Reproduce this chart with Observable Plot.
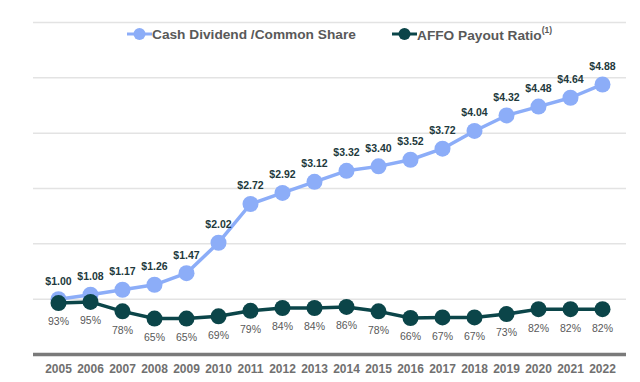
<!DOCTYPE html>
<html>
<head>
<meta charset="utf-8">
<script src="https://cdn.jsdelivr.net/npm/d3@7"></script>
<script src="https://cdn.jsdelivr.net/npm/@observablehq/plot@0.6"></script>
<style>
  html, body { margin: 0; padding: 0; background: #fff; }
  #wrap { position: relative; width: 640px; height: 382px; font-family: "Liberation Sans", Arial, sans-serif; }
  #legend { position: absolute; top: 26px; left: 0; width: 640px; height: 18px; }
  .item { position: absolute; top: 0; display: flex; align-items: center; white-space: nowrap; }
  .item span { display: inline-block; font-weight: bold; font-size: 13.7px; color: #595959; }
  .item sup { font-size: 8.5px; position: relative; top: -1px; }
</style>
</head>
<body>
<div id="wrap">
  <div id="chart"></div>
  <div id="legend">
    <div class="item" style="left:127px;">
      <svg width="25" height="16"><line x1="0" y1="8" x2="25" y2="8" stroke="#8CADF8" stroke-width="3"/><circle cx="12.5" cy="8" r="6" fill="#8CADF8"/></svg>
      <span>Cash Dividend /Common Share</span>
    </div>
    <div class="item" style="left:392px;">
      <svg width="25" height="16"><line x1="0" y1="8" x2="25" y2="8" stroke="#0B4549" stroke-width="3"/><circle cx="12.5" cy="8" r="6" fill="#0B4549"/></svg>
      <span>AFFO Payout Ratio<sup>(1)</sup></span>
    </div>
  </div>
</div>
<script>
const years = ["2005","2006","2007","2008","2009","2010","2011","2012","2013","2014","2015","2016","2017","2018","2019","2020","2021","2022"];
const dividend = [1.00,1.08,1.17,1.26,1.47,2.02,2.72,2.92,3.12,3.32,3.40,3.52,3.72,4.04,4.32,4.48,4.64,4.88];
const payout = [93,95,78,65,65,69,79,84,84,86,78,66,67,67,73,82,82,82];
const gridValues = [1,2,3,4,5,6];

const blue = "#8CADF8";
const dark = "#0B4549";

const divData = years.map((y, i) => ({year: y, v: dividend[i]}));
const payData = years.map((y, i) => ({year: y, v: payout[i] / 100, p: payout[i]}));

const chart = Plot.plot({
  width: 640,
  height: 382,
  marginTop: 22,
  marginBottom: 28,
  marginLeft: 33,
  marginRight: 14,
  style: {fontFamily: "Liberation Sans, Arial, sans-serif", background: "#fff"},
  x: {type: "point", domain: years, padding: 0.5, label: null},
  y: {domain: [0, 6], axis: null},
  marks: [
    Plot.ruleY(gridValues, {stroke: "#e3e3e3", strokeWidth: 1.5}),
    Plot.ruleY([0], {stroke: "#7a7a7a", strokeWidth: 3.5}),
    Plot.axisX({tickSize: 0, tickPadding: 10, fontSize: 12, fontWeight: "bold", fill: "#707070", label: null}),
    Plot.line(divData, {x: "year", y: "v", stroke: blue, strokeWidth: 3.5}),
    Plot.dot(divData, {x: "year", y: "v", r: 8, fill: blue}),
    Plot.line(payData, {x: "year", y: "v", stroke: dark, strokeWidth: 3.5}),
    Plot.dot(payData, {x: "year", y: "v", r: 8, fill: dark}),
    Plot.text(divData, {x: "year", y: "v", text: d => "$" + d.v.toFixed(2), dy: -18, fontSize: 10.5, fontWeight: "bold", fill: "#22393c"}),
    Plot.text(payData, {x: "year", y: "v", text: d => d.p + "%", dy: 19, fontSize: 10.5, fill: "#595959"})
  ]
});
document.getElementById("chart").appendChild(chart);
</script>
</body>
</html>
